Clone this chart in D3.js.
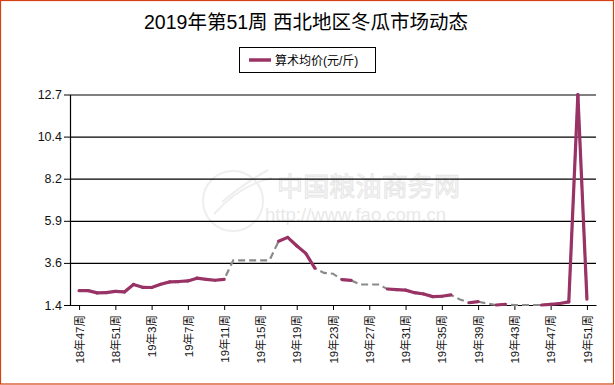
<!DOCTYPE html>
<html>
<head>
<meta charset="utf-8">
<script src="https://cdn.jsdelivr.net/npm/d3@7"></script>
<style>
  html, body { margin: 0; padding: 0; background: #fff; }
  svg { display: block; }
  text { font-family: "Liberation Sans", Arial, "Noto Sans CJK SC", sans-serif; }
</style>
</head>
<body>
<svg id="chart" width="615" height="385"></svg>
<script>
const title = "2019年第51周 西北地区冬瓜市场动态";
const seriesName = "算术均价(元/斤)";

const weeks = [
  "18年47周","18年48周","18年49周","18年50周","18年51周","18年52周",
  "19年1周","19年2周","19年3周","19年4周","19年5周","19年6周","19年7周","19年8周","19年9周","19年10周",
  "19年11周","19年12周","19年13周","19年14周","19年15周","19年16周","19年17周","19年18周","19年19周","19年20周",
  "19年21周","19年22周","19年23周","19年24周","19年25周","19年26周","19年27周","19年28周","19年29周","19年30周",
  "19年31周","19年32周","19年33周","19年34周","19年35周","19年36周","19年37周","19年38周","19年39周","19年40周",
  "19年41周","19年42周","19年43周","19年44周","19年45周","19年46周","19年47周","19年48周","19年49周","19年50周",
  "19年51周"
];

const prices = [
  2.17, 2.17, 2.05, 2.06, 2.13, 2.10,
  2.50, 2.35, 2.34, 2.51, 2.64, 2.66, 2.69, 2.84, 2.78, 2.73,
  2.78, 3.80, 3.80, 3.80, 3.80, 3.80, 4.82, 5.03, 4.58, 4.17,
  3.38, 3.12, 3.08, 2.76, 2.72, 2.50, 2.50, 2.50, 2.26, 2.23,
  2.20, 2.06, 1.99, 1.85, 1.87, 1.94, 1.70, 1.52, 1.58, 1.48,
  1.40, 1.44, 1.40, 1.40, 1.40, 1.40, 1.43, 1.48, 1.57, 12.70,
  1.71
];

// 1 = quoted price, 0 = no quote (carried, drawn as gray dashed)
const quoted = [
  1,1,1,1,1,1,
  1,1,1,1,1,1,1,1,1,1,
  1,0,0,0,0,0,1,1,1,1,
  1,0,0,1,1,0,0,0,1,1,
  1,1,1,1,1,1,0,1,1,0,
  1,1,0,0,0,1,1,1,1,1,
  1
];

const xTickLabels = weeks.filter((d, i) => i % 4 === 0);
const yTickLabels = ["1.4", "3.6", "5.9", "8.2", "10.4", "12.7"];
const yMin = 1.4, yMax = 12.7;

const data = weeks.map((w, i) => ({ week: w, value: prices[i], quoted: quoted[i] === 1 }));

const svg = d3.select("#chart");
const W = 615, H = 385;
const m = { left: 70, right: 19, top: 94.5, bottom: 80 };
const x0 = m.left, x1 = W - m.right, yTop = m.top, yBot = 305;

// outer border
svg.append("rect").attr("x", 0.5).attr("y", 0.5).attr("width", 613).attr("height", 383.5)
  .attr("fill", "#fff").attr("stroke", "#d4400f").attr("stroke-width", 1.2);

// watermark
const wm = svg.append("g").attr("pointer-events", "none");
wm.append("circle").attr("cx", 233).attr("cy", 201).attr("r", 30)
  .attr("fill", "none").attr("stroke", "#eeeeee").attr("stroke-width", 2);
wm.append("path").attr("d", "M214,214 Q240,185 272,178 M222,202 Q246,182 268,170")
  .attr("fill", "none").attr("stroke", "#eeeeee").attr("stroke-width", 2);
wm.append("text").attr("x", 277).attr("y", 196).text("中国粮油商务网")
  .attr("font-size", 26).attr("fill", "#fbfbfb").attr("stroke", "#e6e6e6").attr("stroke-width", 1)
  .style("font-family", "'Noto Sans CJK SC', sans-serif").attr("textLength", 183);
wm.append("text").attr("x", 265).attr("y", 221).text("http://www.fao.com.cn")
  .attr("font-size", 18.5).attr("fill", "#e8e8e8");

const x = d3.scalePoint().domain(weeks).range([x0, x1]).padding(1);
const y = d3.scaleLinear().domain([yMin, yMax]).range([yBot, yTop]);
const yTickVals = yTickLabels.map((d, i) => yMin + i * (yMax - yMin) / (yTickLabels.length - 1));

// gridlines
svg.append("g")
  .attr("transform", `translate(${x0},0)`)
  .call(d3.axisLeft(y).tickValues(yTickVals).tickSize(-(x1 - x0)).tickFormat(""))
  .call(g => g.select(".domain").remove())
  .call(g => g.selectAll("line").attr("stroke", "#000").attr("stroke-width", 1.2));

// y axis
svg.append("g")
  .attr("transform", `translate(${x0},0)`)
  .call(d3.axisLeft(y).tickValues(yTickVals).tickSize(6).tickSizeOuter(0)
    .tickFormat((d, i) => yTickLabels[i]))
  .call(g => g.select(".domain").attr("stroke", "#000").attr("stroke-width", 1.2))
  .call(g => g.selectAll("line").attr("stroke", "#000"))
  .call(g => g.selectAll("text").attr("font-size", 12.5).attr("fill", "#111").attr("x", -8)
    .style("font-family", "'Liberation Sans', Arial, sans-serif"));

// x axis
svg.append("g")
  .attr("transform", `translate(0,${yBot})`)
  .call(d3.axisBottom(x).tickValues(xTickLabels).tickSize(5).tickSizeOuter(0))
  .call(g => g.select(".domain").attr("stroke", "#000").attr("stroke-width", 1.2))
  .call(g => g.selectAll("line").attr("stroke", "#000"))
  .call(g => g.selectAll("text")
    .attr("transform", "rotate(-90)")
    .attr("x", -10).attr("y", 0).attr("dy", "0.36em")
    .attr("text-anchor", "end")
    .attr("font-size", 11.5).attr("fill", "#111")
    .style("font-family", "'Liberation Sans', Arial, 'Noto Sans CJK SC', sans-serif"));

// gray dashed line through all points (shows where no quote)
const lineAll = d3.line().x(d => x(d.week)).y(d => y(d.value));
svg.append("path").datum(data).attr("d", lineAll)
  .attr("fill", "none").attr("stroke", "#8a8a8a").attr("stroke-width", 2.2)
  .attr("stroke-dasharray", "7,4");

// solid segments between consecutive quoted points
const segs = [];
for (let i = 0; i < data.length - 1; i++) {
  if (data[i].quoted && data[i + 1].quoted) segs.push([data[i], data[i + 1]]);
}
svg.append("g").selectAll("path").data(segs).join("path")
  .attr("d", lineAll)
  .attr("fill", "none").attr("stroke", "#993366").attr("stroke-width", 3.2)
  .attr("stroke-linecap", "round").attr("stroke-linejoin", "round");

// title
svg.append("text").attr("x", 306).attr("y", 29).attr("text-anchor", "middle")
  .attr("font-size", 19.5).attr("fill", "#000").text(title)
  .style("font-family", "'Liberation Sans', Arial, 'Noto Sans CJK SC', sans-serif");

// legend
const lg = svg.append("g");
lg.append("rect").attr("x", 239.5).attr("y", 47.5).attr("width", 136).attr("height", 25)
  .attr("fill", "#fff").attr("stroke", "#000").attr("stroke-width", 1);
lg.append("line").attr("x1", 249).attr("x2", 271).attr("y1", 60).attr("y2", 60)
  .attr("stroke", "#993366").attr("stroke-width", 3.5);
lg.append("text").attr("x", 275).attr("y", 64.5).attr("font-size", 12).attr("fill", "#000")
  .text(seriesName)
  .style("font-family", "'Liberation Sans', Arial, 'Noto Sans CJK SC', sans-serif");
</script>
</body>
</html>
